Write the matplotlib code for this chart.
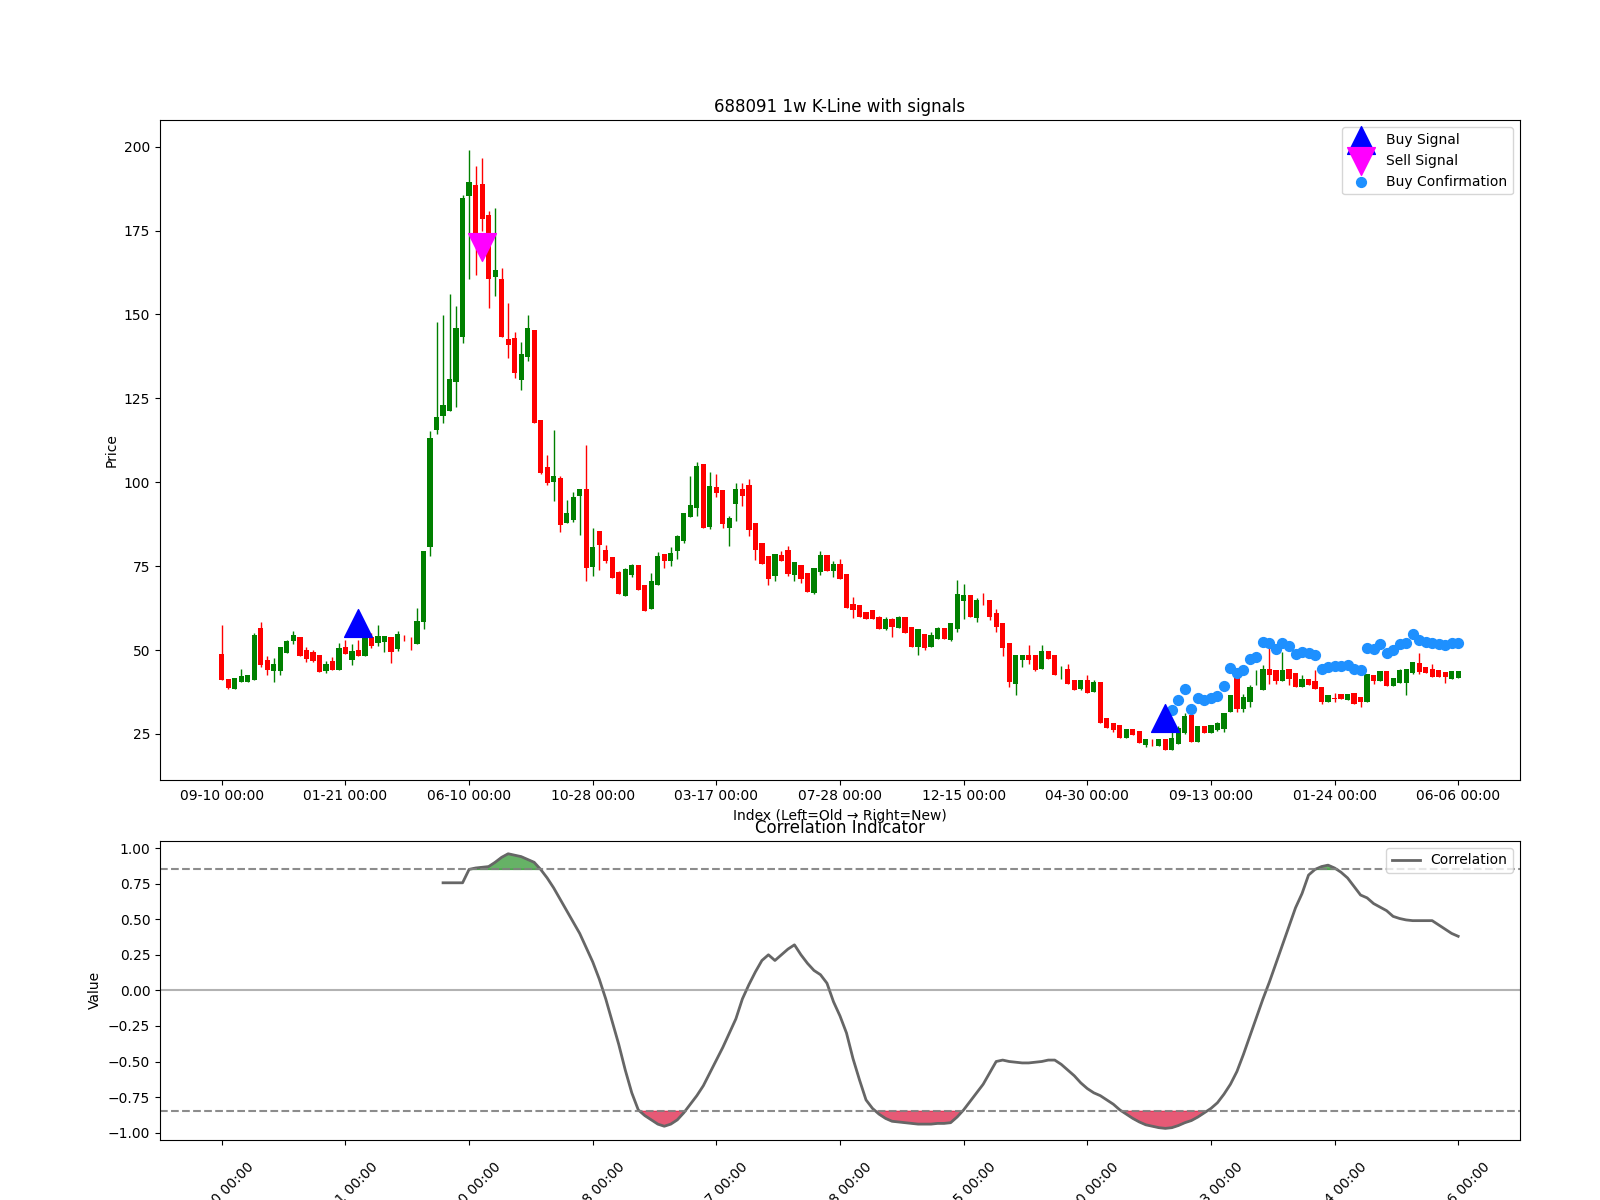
import numpy as np
import matplotlib
matplotlib.use("Agg")
from matplotlib import pyplot as plt

# weekly candles, index 0 = oldest
opens = [48.9, 41.5, 38.5, 40.5, 40.6, 41.2, 56.6, 47.1, 43.7, 43.6,
         49.2, 52.7, 54.0, 50.1, 49.3, 48.6, 43.6, 46.6, 44.1, 51.0,
         47.1, 50.1, 48.3, 54.0, 52.2, 52.5, 54.0, 50.2, 53.65, 52.05,
         51.9, 58.3, 80.6, 115.5, 119.8, 121.1, 130.0, 143.2, 185.2, 188.5,
         189.0, 179.7, 161.3, 160.5, 142.7, 142.9, 130.5, 137.4, 145.3, 118.4,
         104.4, 100.1, 101.4, 87.9, 88.8, 95.9, 97.9, 74.6, 85.4, 79.8,
         77.6, 73.2, 66.2, 72.3, 75.2, 69.3, 62.3, 69.5, 78.5, 76.4,
         79.6, 82.5, 89.6, 92.3, 105.4, 86.6, 98.7, 97.8, 86.3, 93.5,
         97.9, 99.2, 87.8, 81.9, 77.9, 72.0, 78.4, 79.9, 72.5, 75.2,
         72.8, 67.0, 73.2, 78.4, 73.5, 75.6, 72.7, 63.8, 63.4, 61.4,
         61.9, 59.9, 56.3, 59.1, 56.6, 59.9, 56.9, 51.0, 54.8, 51.0,
         53.4, 56.6, 53.0, 56.3, 64.5, 66.4, 59.6, 64.05, 64.8, 61.1,
         58.1, 52.2, 40.0, 46.9, 48.5, 48.4, 44.2, 49.7, 48.5, 44.0,
         44.2, 41.1, 38.5, 41.1, 37.6, 40.6, 29.6, 28.2, 27.7, 23.9,
         26.6, 25.9, 21.6, 22.55, 21.5, 23.6, 20.3, 22.0, 25.4, 30.6,
         22.5, 27.4, 25.4, 26.1, 26.4, 31.4, 43.5, 32.5, 34.5, 41.5,
         38.1, 44.4, 43.9, 40.8, 44.2, 43.0, 39.0, 41.3, 40.8, 39.0,
         34.5, 35.55, 36.8, 35.0, 37.1, 36.0, 34.5, 42.6, 40.8, 43.6,
         39.3, 40.3, 40.3, 43.0, 46.2, 45.0, 44.2, 43.9, 43.3, 41.5,
         41.8]
highs = [57.4, 41.5, 41.8, 44.2, 42.7, 55.1, 58.3, 48.1, 47.5, 51.0,
         53.0, 55.8, 54.0, 50.8, 50.0, 48.6, 46.6, 47.8, 52.0, 53.0,
         51.7, 53.0, 54.2, 55.0, 57.6, 54.2, 54.0, 55.8, 54.6, 54.0,
         62.4, 79.6, 115.2, 147.7, 149.9, 156.1, 152.5, 185.6, 198.9, 194.1,
         196.7, 180.8, 181.8, 163.7, 153.4, 144.8, 141.9, 149.9, 145.3, 118.4,
         108.1, 115.6, 101.9, 94.7, 97.1, 97.9, 111.0, 86.5, 85.4, 81.2,
         77.6, 73.5, 74.4, 75.7, 75.2, 69.3, 73.0, 79.2, 78.5, 80.7,
         84.4, 90.8, 102.0, 105.9, 105.4, 102.9, 102.5, 97.8, 89.8, 99.9,
         99.9, 100.9, 87.8, 81.9, 77.9, 78.6, 79.6, 80.9, 76.2, 75.2,
         72.8, 74.5, 79.6, 78.4, 76.6, 77.1, 72.7, 65.7, 63.4, 61.4,
         61.9, 60.1, 59.8, 59.6, 60.1, 59.9, 56.9, 56.3, 54.8, 55.4,
         56.8, 56.6, 58.1, 70.8, 69.8, 66.4, 65.5, 67.0, 64.8, 62.1,
         58.1, 52.2, 48.4, 48.5, 51.4, 48.4, 51.4, 49.7, 48.5, 45.2,
         45.7, 41.1, 41.1, 42.5, 41.0, 40.6, 29.6, 28.2, 27.7, 26.6,
         26.6, 25.9, 23.6, 23.4, 23.6, 23.6, 26.9, 27.4, 31.1, 31.2,
         27.4, 27.4, 27.6, 28.4, 31.1, 36.5, 43.5, 36.8, 39.5, 44.0,
         45.4, 53.5, 43.9, 49.5, 44.2, 43.0, 42.5, 41.3, 44.0, 39.0,
         36.6, 37.1, 36.8, 36.8, 37.1, 36.0, 42.8, 42.6, 43.6, 43.6,
         41.8, 44.2, 44.2, 46.5, 49.2, 45.0, 45.9, 43.9, 43.3, 43.8,
         43.8]
lows = [41.0, 38.3, 38.3, 40.5, 40.6, 41.2, 45.0, 42.6, 40.5, 42.6,
        49.2, 51.7, 48.2, 46.4, 46.4, 43.3, 43.1, 44.1, 44.1, 48.9,
        45.4, 48.2, 48.3, 50.5, 51.2, 49.4, 46.2, 49.7, 52.7, 49.9,
        51.9, 56.3, 78.0, 114.4, 117.6, 121.1, 122.5, 141.6, 160.5, 161.6,
        174.9, 152.0, 155.5, 143.2, 136.9, 131.2, 127.5, 136.0, 117.6, 102.4,
        99.3, 94.5, 85.2, 87.9, 88.1, 84.4, 70.5, 72.1, 73.9, 75.8,
        71.6, 66.6, 66.0, 71.7, 67.8, 61.6, 62.3, 69.5, 74.5, 74.9,
        77.1, 81.9, 89.6, 89.8, 86.3, 86.2, 95.6, 86.3, 80.9, 88.3,
        93.0, 83.9, 76.9, 75.6, 69.5, 70.7, 76.4, 72.2, 70.7, 70.0,
        67.3, 66.8, 72.5, 73.5, 71.7, 71.2, 62.6, 59.6, 59.9, 59.1,
        59.1, 56.3, 56.1, 53.9, 56.6, 55.1, 51.0, 48.4, 50.0, 51.0,
        53.4, 53.4, 52.7, 55.3, 59.3, 59.8, 58.3, 63.3, 58.9, 55.3,
        48.2, 39.0, 36.6, 45.0, 45.7, 43.7, 44.2, 47.2, 42.5, 41.5,
        39.8, 38.1, 38.1, 37.1, 37.6, 28.2, 26.7, 25.6, 23.9, 23.9,
        24.7, 22.2, 21.2, 21.4, 21.5, 20.3, 20.3, 22.0, 24.9, 22.7,
        22.5, 25.4, 25.4, 25.9, 25.7, 31.4, 31.6, 31.6, 33.1, 39.5,
        38.1, 39.8, 39.8, 40.8, 39.5, 39.0, 39.0, 39.5, 38.5, 33.8,
        34.5, 34.5, 35.3, 35.0, 34.0, 33.1, 34.5, 39.8, 40.8, 39.3,
        39.3, 40.3, 36.5, 42.8, 42.8, 43.0, 42.1, 42.0, 40.3, 41.5,
        41.8]
closes = [41.0, 38.6, 41.8, 42.4, 42.7, 54.6, 45.6, 44.0, 45.9, 51.0,
          52.6, 54.5, 48.3, 47.4, 46.8, 43.3, 45.9, 44.1, 50.7, 48.9,
          49.7, 48.2, 54.0, 51.2, 54.2, 54.2, 49.5, 54.8, 53.6, 52.0,
          58.6, 79.4, 113.1, 119.5, 122.9, 130.7, 145.9, 184.7, 189.5, 173.8,
          178.4, 160.5, 163.2, 143.2, 140.8, 132.6, 138.2, 146.1, 117.6, 102.8,
          99.8, 101.9, 87.3, 90.8, 95.5, 97.9, 74.4, 80.8, 81.2, 76.6,
          71.6, 66.6, 74.2, 75.2, 67.8, 61.6, 70.5, 77.9, 76.4, 78.9,
          83.9, 90.8, 93.3, 104.7, 86.3, 99.0, 96.7, 87.5, 89.3, 97.9,
          95.8, 85.9, 79.7, 75.6, 71.2, 78.6, 76.4, 72.7, 76.2, 71.2,
          67.3, 74.5, 78.4, 73.5, 75.6, 71.2, 62.6, 61.9, 59.9, 59.1,
          59.1, 56.3, 59.3, 56.9, 59.9, 55.1, 51.0, 56.3, 50.5, 54.6,
          56.6, 53.4, 58.1, 66.8, 66.4, 59.8, 65.0, 64.0, 59.8, 56.9,
          50.7, 40.5, 48.4, 48.5, 46.9, 44.0, 49.7, 47.2, 42.5, 44.0,
          39.8, 38.1, 41.1, 37.1, 40.6, 28.2, 26.7, 26.2, 23.9, 26.6,
          24.7, 22.2, 23.6, 22.5, 23.6, 20.3, 23.9, 26.9, 30.4, 22.7,
          27.4, 25.4, 27.6, 28.1, 31.1, 36.5, 32.4, 36.0, 39.0, 41.5,
          44.4, 42.5, 40.8, 43.9, 41.5, 39.0, 41.3, 39.5, 38.5, 34.5,
          36.6, 35.5, 35.3, 36.8, 34.0, 34.5, 42.8, 40.8, 43.6, 39.3,
          41.8, 44.0, 44.2, 46.5, 43.3, 43.0, 42.1, 42.0, 42.0, 43.8,
          43.8]

tick_labels = ['09-10 00:00', '01-21 00:00', '06-10 00:00', '10-28 00:00',
               '03-17 00:00', '07-28 00:00', '12-15 00:00', '04-30 00:00',
               '09-13 00:00', '01-24 00:00', '06-06 00:00']

buy_idx = [21, 145]
buy_val = [57.9, 29.7]
sell_idx = [40]
sell_val = [170.2]

confirm_idx = list(range(146, 191))
confirm_val = [32.2, 35.0, 38.5, 32.4, 35.6, 35.0, 35.6, 36.3, 39.3, 44.6,
               43.0, 44.0, 47.2, 48.0, 52.4, 52.0, 50.4, 52.2, 51.2, 48.7,
               49.5, 49.2, 48.4, 44.3, 45.0, 45.2, 45.2, 45.5, 44.4, 43.9,
               50.5, 50.4, 51.7, 49.0, 49.9, 51.9, 52.2, 54.7, 52.9, 52.4,
               52.2, 51.7, 51.5, 52.0, 52.0]

corr_idx = list(range(34, 191))
corr = [0.756, 0.756, 0.756, 0.756, 0.85, 0.86, 0.865, 0.87, 0.90, 0.935,
        0.96, 0.95, 0.94, 0.92, 0.90, 0.85, 0.79, 0.72, 0.64, 0.56,
        0.48, 0.40, 0.30, 0.20, 0.08, -0.06, -0.22, -0.38, -0.56, -0.72,
        -0.84, -0.88, -0.91, -0.94, -0.955, -0.94, -0.91, -0.86, -0.80, -0.74,
        -0.67, -0.58, -0.49, -0.40, -0.30, -0.20, -0.06, 0.04, 0.13, 0.21,
        0.25, 0.21, 0.25, 0.29, 0.32, 0.25, 0.19, 0.14, 0.11, 0.05,
        -0.08, -0.18, -0.30, -0.48, -0.63, -0.77, -0.83, -0.87, -0.90, -0.92,
        -0.925, -0.93, -0.935, -0.94, -0.94, -0.94, -0.935, -0.935, -0.93, -0.89,
        -0.84, -0.78, -0.72, -0.66, -0.58, -0.50, -0.49, -0.50, -0.505, -0.51,
        -0.51, -0.505, -0.50, -0.49, -0.49, -0.52, -0.56, -0.60, -0.65, -0.69,
        -0.72, -0.74, -0.77, -0.80, -0.84, -0.87, -0.90, -0.925, -0.945, -0.955,
        -0.965, -0.97, -0.965, -0.95, -0.93, -0.915, -0.89, -0.86, -0.83, -0.79,
        -0.73, -0.66, -0.57, -0.45, -0.32, -0.19, -0.06, 0.06, 0.19, 0.32,
        0.45, 0.58, 0.68, 0.81, 0.85, 0.87, 0.88, 0.86, 0.83, 0.79,
        0.73, 0.67, 0.65, 0.61, 0.585, 0.56, 0.52, 0.505, 0.495, 0.49,
        0.49, 0.49, 0.49, 0.46, 0.43, 0.40, 0.38]

o = np.array(opens)
h = np.array(highs)
l = np.array(lows)
c = np.array(closes)
x = np.arange(len(o))
colors = np.where(c >= o, 'green', 'red')

fig = plt.figure(figsize=(16, 12), dpi=100)
ax1 = fig.add_axes([0.1, 0.3503, 0.85, 0.5494])
ax2 = fig.add_axes([0.1, 0.0502, 0.85, 0.249])

ax1.vlines(x, l, h, color=colors, linewidth=1)
ax1.bar(x, np.abs(c - o), bottom=np.minimum(o, c), width=0.8, color=colors)

ax1.scatter(buy_idx, buy_val, marker='^', color='blue', s=400, label='Buy Signal', zorder=5)
ax1.scatter(sell_idx, sell_val, marker='v', color='magenta', s=400, label='Sell Signal', zorder=5)
ax1.scatter(confirm_idx, confirm_val, marker='o', color='dodgerblue', s=50, label='Buy Confirmation', zorder=4)

# bars pin the lower limit, so add the usual 5% margin by hand
rng = h.max() - l.min()
ax1.set_ylim(l.min() - 0.05 * rng, h.max() + 0.05 * rng)
xpad = 0.05 * (len(x) - 1)
ax1.set_xlim(-xpad, len(x) - 1 + xpad)

ticks = list(range(0, len(x), 19))
ax1.set_xticks(ticks)
ax1.set_xticklabels(tick_labels)
ax1.set_title('688091 1w K-Line with signals')
ax1.set_ylabel('Price')
ax1.set_xlabel('Index (Left=Old \u2192 Right=New)')
ax1.legend(loc='upper right')

cx = np.array(corr_idx)
cv = np.array(corr)
ax2.plot(cx, cv, color='#666666', linewidth=2, label='Correlation')
ax2.axhline(0.85, color='gray', linestyle='--', alpha=0.9)
ax2.axhline(-0.85, color='gray', linestyle='--', alpha=0.9)
ax2.axhline(0, color='gray', alpha=0.6)
ax2.fill_between(cx, cv, 0.85, where=cv > 0.85, color='green', alpha=0.6, interpolate=True)
ax2.fill_between(cx, cv, -0.85, where=cv < -0.85, color='crimson', alpha=0.7, interpolate=True)
ax2.set_title('Correlation Indicator')
ax2.set_ylabel('Value')
ax2.set_ylim(-1.05, 1.05)
ax2.set_xticks(ticks)
ax2.set_xticklabels(tick_labels, rotation=45)
ax2.tick_params(axis='x', pad=11)
ax2.set_xlim(ax1.get_xlim())
ax2.legend(loc='upper right')

fig.savefig('out.png')
